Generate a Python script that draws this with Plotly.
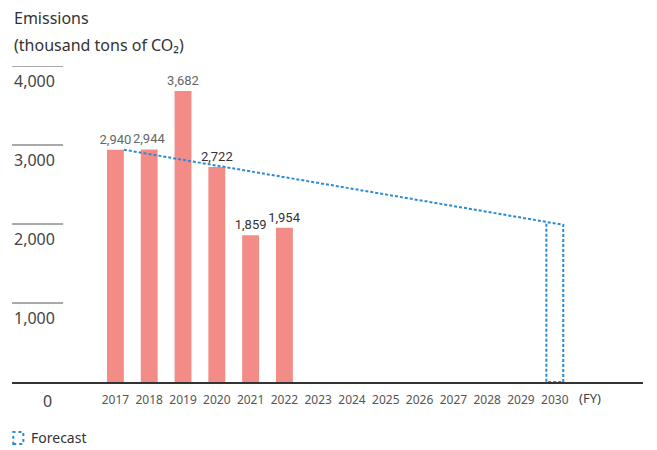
import plotly.graph_objects as go

# Emissions (thousand tons of CO2), actuals by fiscal year
years = [2017, 2018, 2019, 2020, 2021, 2022]
emissions = [2940, 2944, 3682, 2722, 1859, 1954]
label_colors = ['#666666', '#666666', '#666666', '#333333', '#333333', '#333333']

# 2030 forecast
forecast_year = 2030
forecast_value = 1990

axis_years = list(range(2017, 2031))
y_ticks = [1000, 2000, 3000, 4000]

bar_w = 0.5
hw = bar_w / 2
font = 'Noto Sans'

fig = go.Figure()

fig.add_trace(go.Bar(
    x=years, y=emissions, width=bar_w,
    marker=dict(color='#F38C87', line=dict(width=0)),
    text=[f'{v:,}' for v in emissions],
    textposition='outside',
    constraintext='none',
    textfont=dict(size=13, color=label_colors, family='Roboto'),
    cliponaxis=False,
    showlegend=False,
))

# dotted trend from 2017 actual to the 2030 forecast, plus the forecast outline
x0, y0 = years[0] + hw, emissions[0]
x1, y1 = forecast_year + hw, forecast_value
xl = forecast_year - hw
yl = y0 + (y1 - y0) * (xl - x0) / (x1 - x0)
fig.add_trace(go.Scatter(
    x=[x0, x1, x1, xl, xl],
    y=[y0, y1, 0, 0, yl],
    mode='lines',
    line=dict(color='#2A8BD2', width=2, dash='3px,2px'),
    showlegend=False,
    cliponaxis=False,
))

# left tick stubs and labels
for t in y_ticks:
    fig.add_shape(type='line', xref='paper', yref='y',
                  x0=0, x1=0.081, y0=t, y1=t,
                  line=dict(color='#555555', width=1))
    fig.add_annotation(xref='paper', yref='y', x=0, y=t, xanchor='left',
                       yanchor='top', yshift=-2, showarrow=False,
                       text=f'{t:,}', font=dict(size=16, color='#444444', family=font))
fig.add_annotation(xref='paper', yref='y', x=0.057, y=0, xanchor='center',
                   yanchor='top', yshift=-6, showarrow=False,
                   text='0', font=dict(size=16, color='#444444', family=font))

fig.add_annotation(xref='x', yref='y', x=2031.05, y=0, xanchor='center',
                   yanchor='top', yshift=-5, showarrow=False,
                   text='(FY)', font=dict(size=13, color='#444444', family=font))

# title
fig.add_annotation(xref='paper', yref='paper', x=0, y=1.152, xanchor='left',
                   yanchor='middle', showarrow=False,
                   text='Emissions', font=dict(size=16, color='#333333', family=font))
fig.add_annotation(xref='paper', yref='paper', x=0, y=1.066, xanchor='left',
                   yanchor='middle', showarrow=False,
                   text='(thousand tons of CO₂)',
                   font=dict(size=16, color='#333333', family=font))

# forecast key
fig.add_shape(type='rect', xref='paper', yref='paper',
              x0=0.002, x1=0.018, y0=-0.196, y1=-0.158,
              line=dict(color='#2A8BD2', width=2, dash='dot'))
fig.add_annotation(xref='paper', yref='paper', x=0.027, y=-0.177, xanchor='left',
                   yanchor='middle', showarrow=False,
                   text='Forecast', font=dict(size=14, color='#333333', family=font))

fig.update_layout(
    width=657, height=450,
    margin=dict(l=12, r=14, t=66, b=68),
    paper_bgcolor='white', plot_bgcolor='white',
    font=dict(family=font),
)
fig.update_xaxes(
    range=[2013.94, 2032.61],
    tickvals=axis_years, ticktext=[str(y) for y in axis_years],
    tickfont=dict(size=12, color='#555555', family=font),
    ticks='outside', ticklen=6, tickcolor='rgba(0,0,0,0)',
    showline=True, linecolor='#333333', linewidth=1.5,
    showgrid=False, zeroline=False,
)
fig.update_yaxes(range=[0, 4000], showticklabels=False, showgrid=False,
                 zeroline=False, showline=False)

fig.write_html('out.html', config={'displayModeBar': False},
               post_script="document.body.style.margin='0';")
